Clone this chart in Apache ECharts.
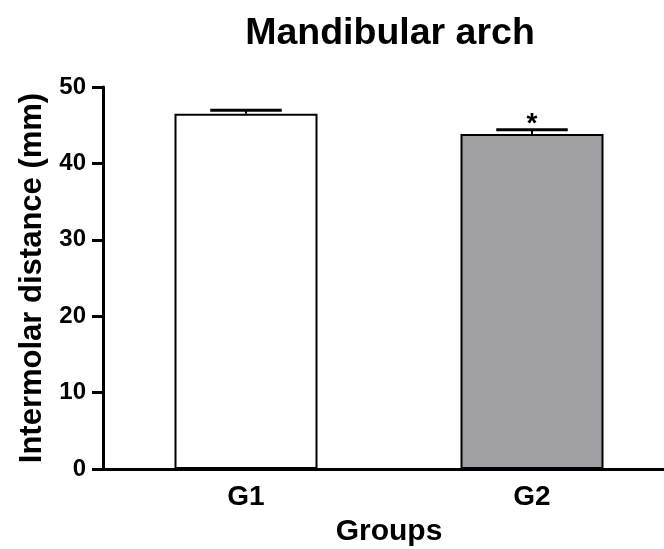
<!DOCTYPE html>
<html>
<head>
<meta charset="utf-8">
<script src="https://cdn.jsdelivr.net/npm/echarts@6/dist/echarts.min.js"></script>
<style>
html,body{margin:0;padding:0;background:#fff;overflow:hidden;}
#chart{width:664px;height:549px;}
</style>
</head>
<body>
<div id="chart"></div>
<script>
var categories = ['G1', 'G2'];
var means = [46.5, 43.85];
var errUpper = [0.45, 0.55];
var marks = ['', '*'];
var yTicks = [0, 10, 20, 30, 40, 50];

var FONT = '"Liberation Sans", Arial, sans-serif';
var chart = echarts.init(document.getElementById('chart'), null, {renderer: 'canvas'});

var errData = categories.map(function (c, i) { return [i, means[i], errUpper[i]]; });

chart.setOption({
  backgroundColor: '#ffffff',
  animation: false,
  title: {
    text: 'Mandibular arch',
    left: 385, textAlign: 'center',
    top: 10,
    textStyle: {fontFamily: FONT, fontWeight: 'bold', fontSize: 37.5, color: '#000'}
  },
  grid: {left: 103, right: -11, top: 87, bottom: 80, containLabel: false, outerBoundsMode: 'none'},
  xAxis: {
    type: 'category',
    data: categories,
    name: 'Groups',
    nameLocation: 'middle',
    nameGap: 48,
    nameTextStyle: {fontFamily: FONT, fontWeight: 'bold', fontSize: 30, color: '#000'},
    axisLine: {lineStyle: {color: '#000', width: 3}},
    axisTick: {show: false},
    axisLabel: {fontFamily: FONT, fontWeight: 'bold', fontSize: 28, color: '#000', margin: 14}
  },
  yAxis: {
    type: 'value',
    min: yTicks[0], max: yTicks[yTicks.length - 1], interval: 10,
    name: 'Intermolar distance (mm)',
    nameLocation: 'middle',
    nameGap: 50,
    nameTextStyle: {fontFamily: FONT, fontWeight: 'bold', fontSize: 31, color: '#000'},
    axisLine: {show: true, lineStyle: {color: '#000', width: 3}},
    axisTick: {show: true, length: 11, lineStyle: {color: '#000', width: 3}},
    axisLabel: {fontFamily: FONT, fontWeight: 'bold', fontSize: 24, color: '#000', margin: 17},
    splitLine: {show: false}
  },
  series: [
    {
      type: 'bar',
      barWidth: '50%',
      data: means.map(function (v, i) {
        return {
          value: v,
          itemStyle: {
            color: i === 0 ? '#ffffff' : '#a09fa4',
            borderColor: '#000',
            borderWidth: 2
          }
        };
      }),
      z: 2
    },
    {
      type: 'custom',
      z: 3,
      data: errData,
      renderItem: function (params, api) {
        var idx = api.value(0);
        var m = api.value(1);
        var e = api.value(2);
        var mark = marks[idx];
        var base = api.coord([idx, m]);
        var top = api.coord([idx, m + e]);
        var bw = api.size([1, 0])[0] * 0.5;
        var half = bw * 0.25;
        var children = [
          {type: 'line', shape: {x1: base[0], y1: base[1], x2: top[0], y2: top[1]},
           style: {stroke: '#000', lineWidth: 2}},
          {type: 'line', shape: {x1: top[0] - half, y1: top[1], x2: top[0] + half, y2: top[1]},
           style: {stroke: '#000', lineWidth: 3}}
        ];
        if (mark) {
          children.push({type: 'text', x: top[0], y: top[1] - 6,
            style: {text: mark, fill: '#000', font: 'bold 28px ' + FONT,
                    textAlign: 'center', textVerticalAlign: 'middle'}});
        }
        return {type: 'group', children: children};
      }
    }
  ]
});
</script>
</body>
</html>
